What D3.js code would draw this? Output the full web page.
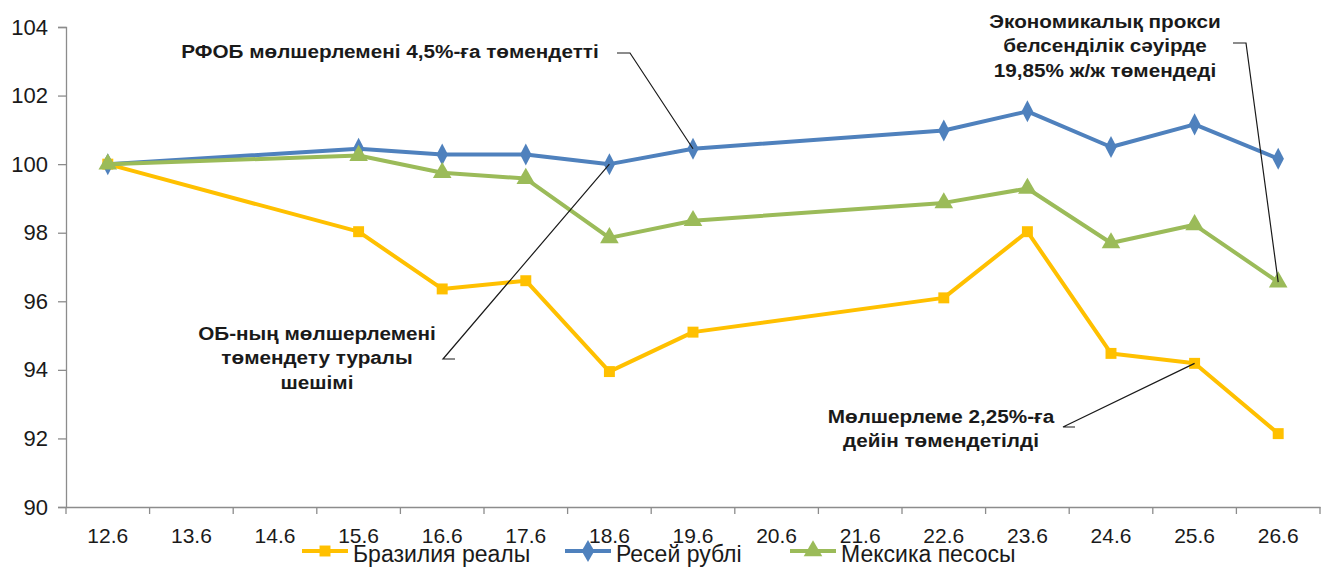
<!DOCTYPE html>
<html>
<head>
<meta charset="utf-8">
<script src="https://cdn.jsdelivr.net/npm/d3@7"></script>
<style>
  body { margin: 0; background: #fff; }
  svg text { font-family: "Liberation Sans", Arial, sans-serif; fill: #1a1a1a; }
</style>
</head>
<body>
<div id="plot"></div>
<script>
// categories on the x axis
const categories = ["12.6", "13.6", "14.6", "15.6", "16.6", "17.6", "18.6", "19.6", "20.6", "21.6", "22.6", "23.6", "24.6", "25.6", "26.6"];
// dates that carry observations
const obsDates = ["12.6", "15.6", "16.6", "17.6", "18.6", "19.6", "22.6", "23.6", "24.6", "25.6", "26.6"];

const brlValues = [100, 98.03, 96.36, 96.6, 93.95, 95.1, 96.1, 98.03, 94.48, 94.19, 92.14];
const rubValues = [100, 100.45, 100.28, 100.28, 100.0, 100.45, 100.98, 101.54, 100.5, 101.16, 100.16];
const mxnValues = [100, 100.25, 99.75, 99.58, 97.85, 98.35, 98.87, 99.29, 97.7, 98.23, 96.56];

const yTicks = [90, 92, 94, 96, 98, 100, 102, 104];

const seriesNames = ["Бразилия реалы", "Ресей рублі", "Мексика песосы"];

const width = 1330, height = 568;
const margin = { top: 27, right: 10, bottom: 61, left: 66 };

const svg = d3.select("#plot")
  .append("svg")
  .attr("width", width)
  .attr("height", height);

const x = d3.scaleBand()
  .domain(categories)
  .range([margin.left, 1320])
  .padding(0);

const y = d3.scaleLinear()
  .domain([90, 104])
  .range([height - margin.bottom, margin.top]);

const axisColor = "#8c8c8c";

// y axis
const yAxisG = svg.append("g")
  .attr("transform", `translate(${margin.left},0)`)
  .call(d3.axisLeft(y).tickValues(yTicks).tickSize(8).tickPadding(10).tickFormat(d3.format("d")));
yAxisG.select(".domain").attr("stroke", axisColor).attr("stroke-width", 1.3);
yAxisG.selectAll(".tick line").attr("stroke", axisColor).attr("stroke-width", 1.3);
yAxisG.selectAll("text").style("font-size", "22px").attr("fill", "#1a1a1a");

// x axis (labels centred in categories, ticks on the boundaries)
const xAxisG = svg.append("g")
  .attr("transform", `translate(0,${y(90)})`)
  .call(d3.axisBottom(x).tickSize(0).tickPadding(21));
xAxisG.select(".domain").attr("stroke", axisColor).attr("stroke-width", 1.3);
xAxisG.selectAll("text").style("font-size", "21px").attr("fill", "#1a1a1a");

const bounds = categories.map(c => x(c)).concat([x.range()[1]]);
xAxisG.selectAll(".bound")
  .data(bounds)
  .enter()
  .append("line")
  .attr("class", "bound")
  .attr("x1", d => d).attr("x2", d => d)
  .attr("y1", 0).attr("y2", 7)
  .attr("stroke", axisColor)
  .attr("stroke-width", 1.3);

// series
const cx = d => x(d) + x.bandwidth() / 2;
const series = [
  { name: seriesNames[0], values: brlValues, color: "#FFC000", marker: d3.symbolSquare, size: 120 },
  { name: seriesNames[1], values: rubValues, color: "#4F81BD", marker: d3.symbolDiamond, size: 140 },
  { name: seriesNames[2], values: mxnValues, color: "#9BBB59", marker: d3.symbolTriangle, size: 150 }
];

const line = d3.line()
  .x((d, i) => cx(obsDates[i]))
  .y(d => y(d));

series.forEach(s => {
  svg.append("path")
    .attr("fill", "none")
    .attr("stroke", s.color)
    .attr("stroke-width", 4)
    .attr("stroke-linejoin", "round")
    .attr("d", line(s.values));

  svg.selectAll(null)
    .data(s.values)
    .enter()
    .append("path")
    .attr("d", d3.symbol().type(s.marker).size(s.size))
    .attr("transform", (d, i) => {
      const sy = s.marker === d3.symbolDiamond ? "scale(0.9,1)" : "";
      return `translate(${cx(obsDates[i])},${y(d)}) ${sy}`;
    })
    .attr("fill", s.color);
});

// annotations
const at = (series, date) => [cx(date), y(series[obsDates.indexOf(date)])];

const notes = [
  { lines: ["РФОБ мөлшерлемені 4,5%-ға төмендетті"], tx: 390, ty: 58,
    elbow: [617, 53, 630], target: at(rubValues, "19.6") },
  { lines: ["Экономикалық прокси", "белсенділік сәуірде", "19,85% ж/ж төмендеді"], tx: 1105, ty: 28,
    elbow: [1233, 43, 1246], target: at(mxnValues, "26.6") },
  { lines: ["ОБ-ның мөлшерлемені", "төмендету туралы", "шешімі"], tx: 317, ty: 340,
    elbow: [455, 359, 443], target: at(rubValues, "18.6") },
  { lines: ["Мөлшерлеме 2,25%-ға", "дейін төмендетілді"], tx: 941, ty: 423,
    elbow: [1075, 427, 1063], target: at(brlValues, "25.6") }
];

notes.forEach(n => {
  const t = svg.append("text")
    .attr("transform", `translate(${n.tx},${n.ty}) scale(1.12,1)`)
    .attr("text-anchor", "middle")
    .style("font-size", "18.5px")
    .style("font-weight", "bold");
  n.lines.forEach((l, i) => {
    t.append("tspan").attr("x", 0).attr("y", i * 24.5).text(l);
  });
  const [ex1, ey, ex2] = n.elbow;
  svg.append("path")
    .attr("fill", "none")
    .attr("stroke", "#1a1a1a")
    .attr("stroke-width", 1.2)
    .attr("d", `M${ex1},${ey}L${ex2},${ey}L${n.target[0]},${n.target[1]}`);
});

// legend
const legendItems = [
  { s: series[0], x: 302 },
  { s: series[1], x: 565 },
  { s: series[2], x: 790 }
];
const legendY = 551;
legendItems.forEach(li => {
  const g = svg.append("g").attr("transform", `translate(${li.x},${legendY})`);
  g.append("line")
    .attr("x1", 0).attr("x2", 46)
    .attr("stroke", li.s.color).attr("stroke-width", 4);
  g.append("path")
    .attr("d", d3.symbol().type(li.s.marker).size(li.s.size))
    .attr("transform", `translate(23,0)`)
    .attr("fill", li.s.color);
  g.append("text")
    .attr("x", 51)
    .attr("y", 11)
    .style("font-size", "23px")
    .text(li.s.name);
});
</script>
</body>
</html>
